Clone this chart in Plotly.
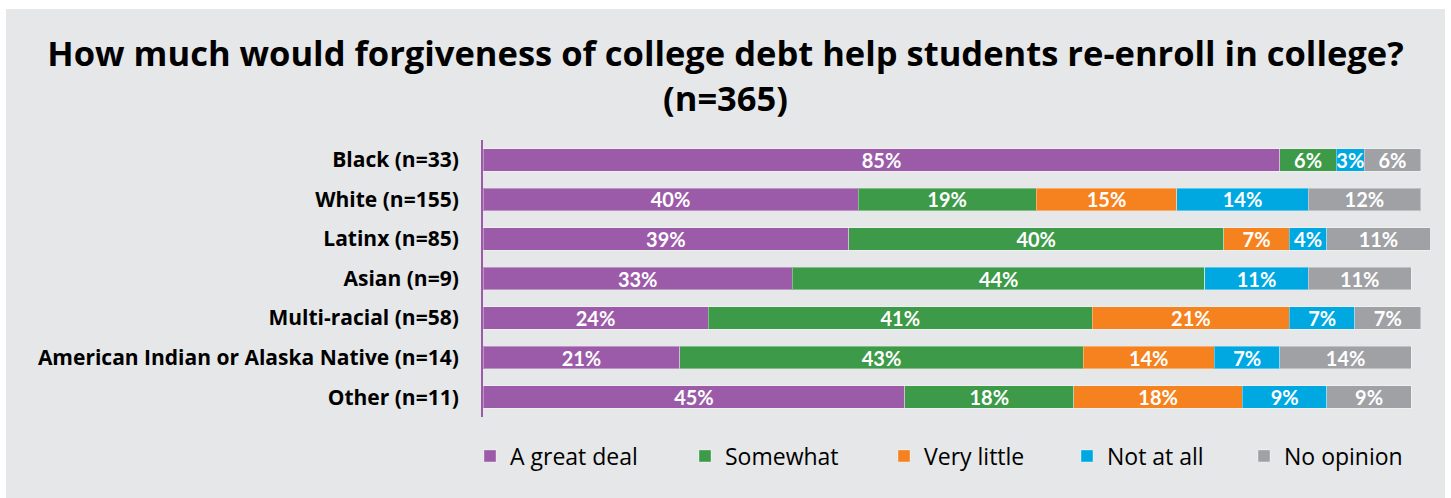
import plotly.graph_objects as go

categories = ["Black (n=33)", "White (n=155)", "Latinx (n=85)", "Asian (n=9)",
              "Multi-racial (n=58)", "American Indian or Alaska Native (n=14)", "Other (n=11)"]
series_names = ["A great deal", "Somewhat", "Very little", "Not at all", "No opinion"]
great_deal = [85, 40, 39, 33, 24, 21, 45]
somewhat = [6, 19, 40, 44, 41, 43, 18]
very_little = [0, 15, 7, 0, 21, 14, 18]
not_at_all = [3, 14, 4, 11, 7, 7, 9]
no_opinion = [6, 12, 11, 11, 7, 14, 9]
colors = ["#9b5ba8", "#3d9a48", "#f5821f", "#00a8e1", "#a0a1a5"]
legend_widths = [170, 154, 138, 132, 116]

series = [great_deal, somewhat, very_little, not_at_all, no_opinion]

W, H = 1451, 498
L, R, T, B = 483, 21, 140, 81
pw, ph = W - L - R, H - T - B

fig = go.Figure()
for name, vals, col, lw in zip(series_names, series, colors, legend_widths):
    fig.add_trace(go.Bar(
        y=categories, x=vals, name=name, orientation="h",
        marker=dict(color=col, line=dict(color="rgba(255,255,255,0.35)", width=1)),
        text=[f"{v}%" if v > 0 else "" for v in vals],
        textposition="inside", insidetextanchor="middle", textangle=0,
        constraintext="none",
        textfont=dict(family="Lato", size=20, color="white", weight="bold"),
        legendwidth=lw,
        hoverinfo="skip",
    ))

def px_x(p):
    return (p - L) / pw

def px_y(p):
    return (H - B - p) / ph

fig.add_shape(type="rect", xref="paper", yref="paper",
              x0=px_x(6), x1=px_x(1445), y0=px_y(498), y1=px_y(9),
              fillcolor="#e6e7e8", line=dict(width=0), layer="below")

fig.update_layout(
    width=W, height=H,
    margin=dict(l=L, r=R, t=T, b=B),
    paper_bgcolor="white", plot_bgcolor="rgba(0,0,0,0)",
    barmode="stack", bargap=0.43,
    title=dict(text="How much would forgiveness of college debt help students re-enroll in college?<br>(n=365)",
               x=0.5, xanchor="center", xref="container",
               y=1 - 66 / H, yanchor="top", yref="container",
               font=dict(family="Open Sans", size=34.5, color="black", weight="bold")),
    xaxis=dict(range=[0, 101], visible=False, fixedrange=True),
    yaxis=dict(autorange="reversed", showgrid=False, zeroline=False,
               showline=True, linecolor="#9b5ba8", linewidth=2,
               ticks="", ticklabelstandoff=18,
               tickfont=dict(family="Open Sans", size=21, color="black", weight="bold")),
    legend=dict(orientation="h", x=px_x(470), xanchor="left",
                y=px_y(456), yanchor="middle",
                font=dict(family="Open Sans", size=23, color="black"),
                bgcolor="rgba(0,0,0,0)", traceorder="normal"),
    showlegend=True,
)

fig.write_html("out.html")
